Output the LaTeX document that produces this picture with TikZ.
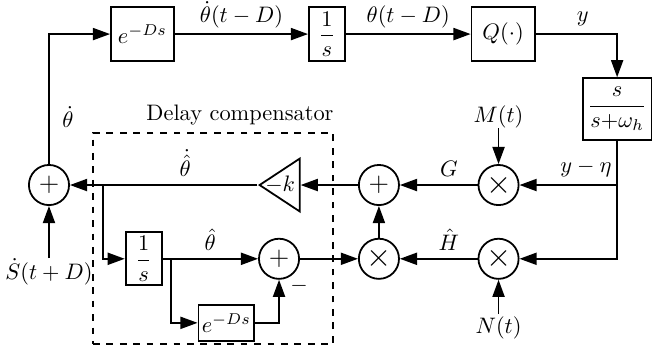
\documentclass[tikz,border=0pt]{standalone}
\usepackage{amsmath}
\usepackage{amssymb}
\usepackage{tikz}
\usetikzlibrary{
  arrows.meta,
  shapes.geometric,
  positioning,
  fit
}
\tikzset{
  blk/.style={
    draw, thick, minimum height=8.5mm, minimum width=5.65mm,
    inner sep=1.5pt, align=center
  },
  sumnode/.style={draw, thick, circle, minimum size=6.3mm, inner sep=0pt},
  mulnode/.style={sumnode},
  gainnode/.style={
    draw, thick, isosceles triangle, shape border rotate=180,
    isosceles triangle stretches, minimum width=8.3mm, minimum height=6.3mm,
    inner sep=0pt
  },
  zone/.style={draw, thick, dashed, inner sep=0pt},
  sig/.style={-{Triangle[length=2.7mm, width=1.9mm]}, thick},
  tag/.style={inner sep=0pt}
}
\begin{document}
\begin{tikzpicture}[node distance=5mm]
  \useasboundingbox (-7.69mm,-26.22mm) rectangle (94.83mm,29.05mm);

  % plant: delay, integrator, map, washout filter
  \node[sumnode] (s1) at (0,0) {\large$+$};
  \node[blk, minimum width=9.9mm] (dl) at (14.68mm,23.7mm) {$e^{-Ds}$};
  \node[blk, right=20.9mm of dl] (ig) {$\dfrac{1}{s}$};
  \node[blk, minimum width=9.9mm, right=19.6mm of ig] (q) {$Q(\cdot)$};
  \node[blk, minimum width=10.8mm, minimum height=9.7mm] (hp) at (89.2mm,11.93mm)
    {$\dfrac{s}{s{+}\omega_h}$};

  % demodulation and gradient/Hessian estimates
  \node[sumnode] (s2) at (51.8mm,0) {\large$+$};
  \node[mulnode, right=12.2mm of s2] (mg) {\Large$\times$};
  \node[mulnode, below=5mm of s2] (mh) {\Large$\times$};
  \node[mulnode, below=5mm of mg] (mn) {\Large$\times$};
  \node[gainnode, left=9mm of s2] (k) {};
  \node[inner sep=0pt, left=0.8mm of k.east] (kt) {$-k$};
  \node[tag, above=5.6mm of mg] (mt) {$M(t)$};
  \node[tag, inner sep=1pt, below=5.4mm of mn] (nt) {$N(t)$};
  \node[tag, below=8.2mm of s1] (sd) {$\dot{S}(t+D)$};

  % delay compensator
  \node[sumnode, left=9.1mm of mh] (s3) {\large$+$};
  \node[blk, minimum height=8.3mm, left=15mm of s3] (ig2) {$\dfrac{1}{s}$};
  \node[blk, minimum width=8.5mm, minimum height=5.65mm,
    below right=2.8mm and 5.5mm of ig2] (dl2) {$e^{-Ds}$};
  \node[tag, anchor=north west] (mi) at ([shift={(-0.6mm,-0.7mm)}]s3.south east) {$-$};
  \node[zone, fit={(6.9mm,8.2mm) (44.6mm,-25.0mm)}] (dc) {};
  \node[anchor=south east, inner xsep=0pt, inner ysep=2.8pt] (dct) at (dc.north east)
    {Delay compensator};

  \coordinate[right=5.15mm of s1] (b1);
  \coordinate[right=1.3mm of ig2] (b2);
  \coordinate (jn) at (hp.south |- mg);

  % connectors
  \draw[sig] (s1.north) |- node[pos=0.18, right=0.8mm] {$\dot{\theta}$} (dl.west);
  \draw[sig] (dl) -- node[above, inner ysep=2.3pt] {$\dot{\theta}(t-D)$} (ig);
  \draw[sig] (ig) -- node[above, inner ysep=2.3pt] {$\theta(t-D)$} (q);
  \draw[sig] (q.east) -| node[pos=0.29, above] {$y$} (hp.north);
  \draw[sig] (hp.south) |- (mn.east);
  \draw[sig] (jn) -- node[above, pos=0.32] {$y-\eta$} (mg);
  \draw[sig] (mt) -- (mg);
  \draw[sig] (nt) -- (mn);
  \draw[sig] (mg) -- node[above, pos=0.37] {$G$} (s2);
  \draw[sig] (mn) -- node[above, pos=0.37] {$\hat{H}$} (mh);
  \draw[sig] (mh) -- (s2);
  \draw[sig] (s2) -- (k);
  \draw[sig] (k) -- node[above, pos=0.385] {$\dot{\hat{\theta}}$} (s1);
  \draw[sig] (sd) -- (s1);
  \draw[sig] (b1) |- (ig2.west);
  \draw[sig] (ig2) -- node[above] {$\hat{\theta}$} (s3);
  \draw[sig] (b2) |- (dl2.west);
  \draw[sig] (dl2.east) -| (s3.south);
  \draw[sig] (s3) -- (mh);
\end{tikzpicture}
\end{document}
